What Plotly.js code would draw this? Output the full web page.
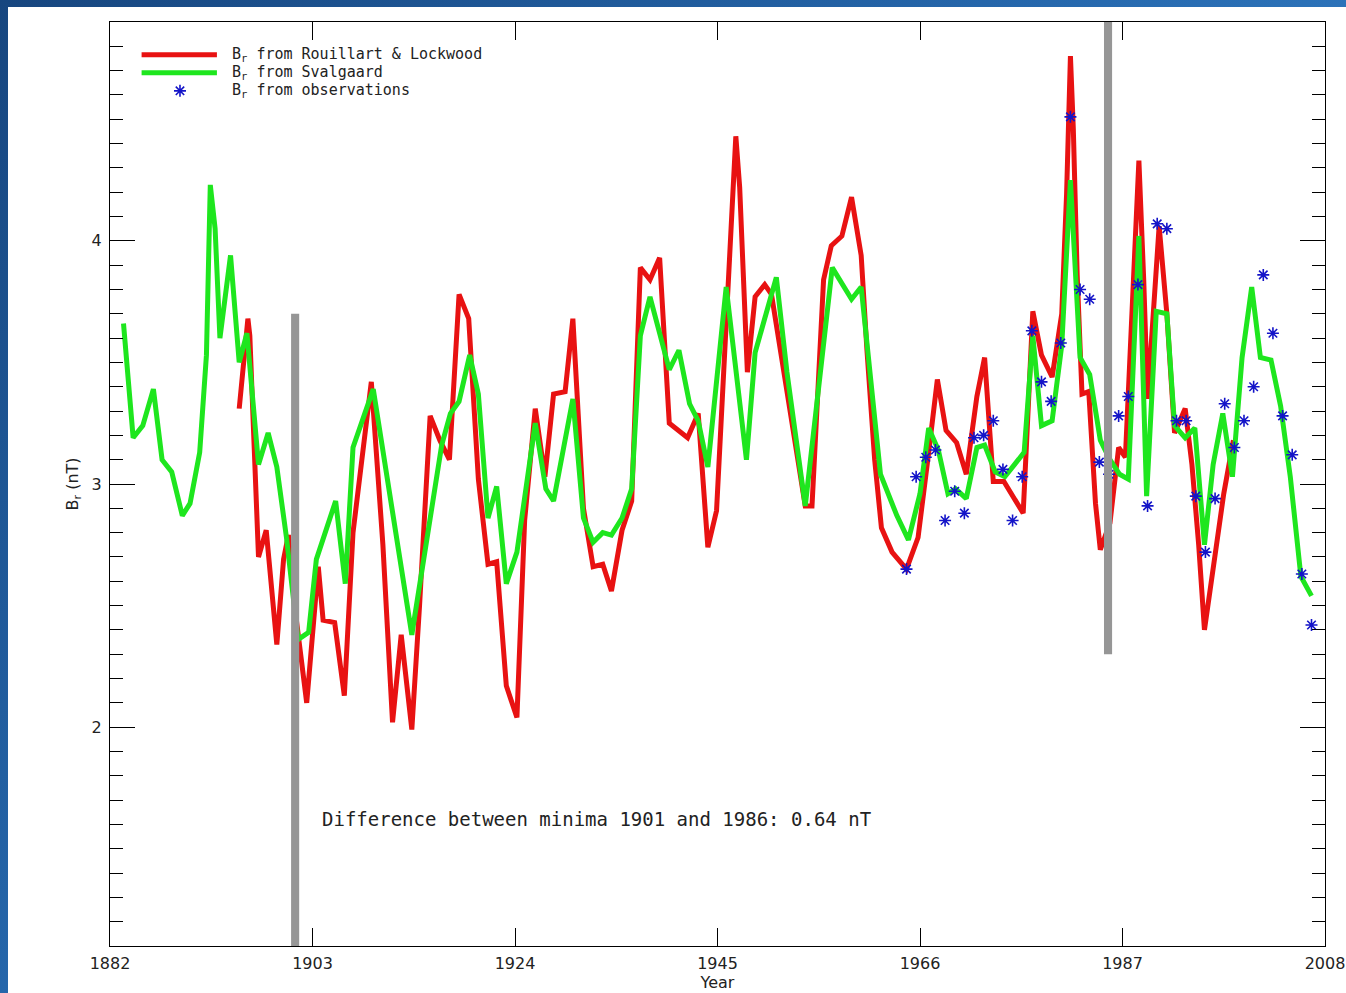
<!DOCTYPE html>
<html>
<head>
<meta charset="utf-8">
<script src="https://cdn.plot.ly/plotly-3.0.1.min.js"></script>
<style>
  html, body { margin: 0; padding: 0; width: 1346px; height: 993px; overflow: hidden;
    background: linear-gradient(135deg, #17467f 0%, #2668ad 45%, #3f95e0 100%); }
  #chart { position: absolute; left: 8px; top: 7px; width: 1338px; height: 986px; background: #fff; }
</style>
</head>
<body>
<div id="chart"></div>
<script>
// ---- data ----
const xTickVals = [1882, 1903, 1924, 1945, 1966, 1987, 2008];
const yTickVals = [2, 3, 4];

const redYears = [1895.4, 1896.3, 1896.5, 1896.9, 1897.4, 1898.2, 1899.3, 1900.0, 1900.5, 1901.3,
  1902.4, 1903.6, 1904.1, 1905.3, 1906.3, 1907.2, 1909.1, 1910.3, 1911.3, 1912.2,
  1913.3, 1914.1, 1915.2, 1916.2, 1917.2, 1918.2, 1919.2, 1920.2, 1921.2, 1922.1,
  1923.1, 1924.2, 1925.0, 1926.1, 1927.1, 1928.0, 1929.2, 1930.0, 1931.1, 1932.1,
  1933.1, 1934.0, 1935.1, 1936.1, 1937.0, 1938.0, 1939.0, 1940.0, 1941.9, 1943.0,
  1944.0, 1944.9, 1946.1, 1946.6, 1946.9, 1947.3, 1947.7, 1948.1, 1948.9, 1949.9,
  1950.6, 1952.2, 1953.2, 1954.1, 1954.8, 1956.0, 1956.8, 1957.9, 1958.9, 1959.9,
  1960.5, 1961.3, 1962.0, 1963.1, 1964.6, 1965.8, 1966.9, 1967.8, 1968.7, 1969.8,
  1970.8, 1971.9, 1972.7, 1973.6, 1974.7, 1975.7, 1976.7, 1977.7, 1978.6, 1979.7,
  1980.7, 1981.2, 1981.6, 1981.9, 1982.3, 1982.8, 1983.5, 1984.2, 1984.7, 1985.7,
  1986.6, 1987.3, 1988.1, 1988.7, 1989.2, 1989.6, 1990.8, 1991.6, 1992.4, 1993.5,
  1994.2, 1994.9, 1995.5, 1996.4, 1997.5, 1998.5];
const redValues = [3.31, 3.68, 3.61, 3.20, 2.70, 2.81, 2.34, 2.69, 2.79, 2.45,
  2.10, 2.66, 2.44, 2.43, 2.13, 2.80, 3.42, 2.75, 2.02, 2.38,
  1.99, 2.50, 3.28, 3.18, 3.10, 3.78, 3.68, 3.02, 2.67, 2.68,
  2.17, 2.04, 2.85, 3.31, 3.03, 3.37, 3.38, 3.68, 2.90, 2.66,
  2.67, 2.56, 2.81, 2.93, 3.89, 3.84, 3.93, 3.25, 3.19, 3.29,
  2.74, 2.89, 3.80, 4.24, 4.43, 4.22, 3.80, 3.46, 3.77, 3.82,
  3.78, 3.39, 3.14, 2.91, 2.91, 3.84, 3.98, 4.02, 4.18, 3.94,
  3.55, 3.10, 2.82, 2.72, 2.65, 2.78, 3.13, 3.43, 3.22, 3.17,
  3.04, 3.36, 3.52, 3.01, 3.01, 2.94, 2.88, 3.71, 3.53, 3.44,
  3.70, 4.19, 4.76, 4.46, 3.86, 3.37, 3.38, 2.92, 2.73, 2.84,
  3.15, 3.11, 3.83, 4.33, 3.84, 3.35, 4.06, 3.70, 3.21, 3.31,
  3.08, 2.75, 2.40, 2.66, 2.96, 3.18];

const greenYears = [1883.4, 1884.4, 1885.4, 1886.5, 1887.4, 1888.4, 1889.5, 1890.3, 1891.3, 1892.0,
  1892.4, 1892.9, 1893.4, 1894.5, 1895.4, 1896.2, 1897.4, 1898.4, 1899.3, 1900.3,
  1901.5, 1902.6, 1903.4, 1905.4, 1906.4, 1907.2, 1909.3, 1913.3, 1916.4, 1917.3,
  1918.2, 1919.3, 1920.2, 1921.2, 1922.1, 1923.1, 1924.2, 1926.1, 1927.2, 1928.0,
  1930.0, 1931.1, 1932.1, 1933.1, 1934.0, 1935.1, 1936.1, 1937.0, 1938.0, 1940.0,
  1941.0, 1942.1, 1943.0, 1944.0, 1945.9, 1948.0, 1948.9, 1951.1, 1952.2, 1954.1,
  1956.9, 1958.9, 1959.9, 1961.9, 1963.6, 1964.8, 1966.0, 1966.9, 1967.9, 1968.9,
  1969.7, 1970.8, 1971.9, 1972.7, 1973.8, 1974.8, 1976.8, 1977.7, 1978.6, 1979.7,
  1980.7, 1981.6, 1982.6, 1983.6, 1984.7, 1985.7, 1986.7, 1987.6, 1988.7, 1989.5,
  1990.5, 1991.6, 1992.4, 1993.5, 1994.5, 1995.5, 1996.4, 1997.4, 1998.4, 1999.4,
  2000.4, 2001.3, 2002.4, 2003.4, 2004.4, 2005.5, 2006.6];
const greenValues = [3.66, 3.19, 3.24, 3.39, 3.10, 3.05, 2.87, 2.92, 3.13, 3.53,
  4.23, 4.05, 3.60, 3.94, 3.50, 3.62, 3.08, 3.21, 3.07, 2.78,
  2.36, 2.39, 2.69, 2.93, 2.59, 3.15, 3.39, 2.38, 3.16, 3.29,
  3.34, 3.53, 3.37, 2.86, 2.99, 2.59, 2.72, 3.25, 2.98, 2.93,
  3.35, 2.86, 2.76, 2.80, 2.79, 2.86, 2.98, 3.61, 3.77, 3.47,
  3.55, 3.33, 3.26, 3.07, 3.81, 3.10, 3.54, 3.85, 3.46, 2.91,
  3.89, 3.76, 3.81, 3.04, 2.87, 2.77, 2.96, 3.23, 3.14, 2.96,
  2.98, 2.94, 3.15, 3.16, 3.05, 3.03, 3.13, 3.61, 3.24, 3.26,
  3.57, 4.25, 3.52, 3.45, 3.18, 3.10, 3.04, 3.02, 4.02, 2.95,
  3.71, 3.70, 3.24, 3.19, 3.23, 2.75, 3.08, 3.29, 3.03, 3.52,
  3.81, 3.52, 3.51, 3.32, 3.03, 2.62, 2.54];

const obsYears = [1964.6, 1965.6, 1966.6, 1967.6, 1968.6, 1969.6, 1970.6, 1971.6, 1972.6, 1973.6,
  1974.6, 1975.6, 1976.6, 1977.6, 1978.6, 1979.6, 1980.6, 1981.6, 1982.6, 1983.6,
  1984.6, 1985.6, 1986.6, 1987.6, 1988.6, 1989.6, 1990.6, 1991.6, 1992.6, 1993.6,
  1994.6, 1995.6, 1996.6, 1997.6, 1998.6, 1999.6, 2000.6, 2001.6, 2002.6, 2003.6,
  2004.6, 2005.6, 2006.6];
const obsValues = [2.65, 3.03, 3.11, 3.14, 2.85, 2.97, 2.88, 3.19, 3.20, 3.26,
  3.06, 2.85, 3.03, 3.63, 3.42, 3.34, 3.58, 4.51, 3.80, 3.76,
  3.09, 3.04, 3.28, 3.36, 3.82, 2.91, 4.07, 4.05, 3.26, 3.26,
  2.95, 2.72, 2.94, 3.33, 3.15, 3.26, 3.40, 3.86, 3.62, 3.28,
  3.12, 2.63, 2.42];

// solar-minimum markers (grey bars)
const minimaYears = [1901.2, 1985.5];
const minimaBottom = [1.1, 2.3];
const minimaTop = [3.7, 4.9];

const seriesNames = ['B<sub>r</sub> from Rouillart &amp; Lockwood', 'B<sub>r</sub> from Svalgaard', 'B<sub>r</sub> from observations'];
const noteText = 'Difference between minima 1901 and 1986: 0.64 nT';

// ---- styling ----
const RED = 'rgb(232,18,18)';
const GREEN = 'rgb(30,230,30)';
const BLUE = 'rgb(20,20,200)';
const GREY = 'rgb(150,150,150)';
const FONT = 'DejaVu Sans';
const MONO = 'DejaVu Sans Mono';

const traces = [
  { x: redYears, y: redValues, type: 'scatter', mode: 'lines', name: seriesNames[0],
    line: { color: RED, width: 5 }, showlegend: false },
  { x: greenYears, y: greenValues, type: 'scatter', mode: 'lines', name: seriesNames[1],
    line: { color: GREEN, width: 5 }, showlegend: false },
  { x: obsYears, y: obsValues, type: 'scatter', mode: 'markers', name: seriesNames[2],
    marker: { symbol: 'asterisk-open', size: 10, color: BLUE, line: { color: BLUE, width: 1.6 } },
    showlegend: false }
];

const shapes = minimaYears.map((yr, i) => ({
  type: 'rect', xref: 'x', yref: 'y', x0: yr - 0.42, x1: yr + 0.42,
  y0: minimaBottom[i], y1: minimaTop[i], fillcolor: GREY, line: { width: 0 }, layer: 'above'
}));

// hand-drawn legend (long line samples like the original)
const legY = [0.9645, 0.945, 0.9255];
shapes.push({ type: 'line', xref: 'paper', yref: 'paper', x0: 0.026, x1: 0.088, y0: legY[0], y1: legY[0],
  line: { color: RED, width: 5 } });
shapes.push({ type: 'line', xref: 'paper', yref: 'paper', x0: 0.026, x1: 0.088, y0: legY[1], y1: legY[1],
  line: { color: GREEN, width: 5 } });
shapes.push({ type: 'path', xref: 'paper', yref: 'paper', xsizemode: 'pixel', ysizemode: 'pixel',
  xanchor: 0.0576, yanchor: legY[2],
  path: 'M-6,0H6M0,-6V6M-4.2,-4.2L4.2,4.2M-4.2,4.2L4.2,-4.2',
  line: { color: BLUE, width: 1.6 } });

const annotations = seriesNames.map((t, i) => ({
  xref: 'paper', yref: 'paper', x: 0.0988, y: legY[i], xanchor: 'left', yanchor: 'middle',
  text: t, showarrow: false, font: { family: MONO, size: 15, color: '#222' }
}));
annotations.push({
  xref: 'paper', yref: 'paper', x: 0.1728, y: 0.1374, xanchor: 'left', yanchor: 'middle',
  text: noteText, showarrow: false, font: { family: MONO, size: 19, color: '#222' }
});

const layout = {
  width: 1338, height: 986,
  margin: { l: 102, r: 21, t: 15, b: 47, pad: 0 },
  paper_bgcolor: '#ffffff', plot_bgcolor: '#ffffff',
  showlegend: false,
  font: { family: FONT, color: '#222' },
  xaxis: {
    range: [1882, 2008], tickvals: xTickVals, ticktext: xTickVals.map(String),
    ticks: 'inside', ticklen: 18, tickwidth: 1, tickcolor: '#000',
    showline: true, linecolor: '#000', linewidth: 1, mirror: 'ticks',
    showgrid: false, zeroline: false, ticklabelstandoff: 3, ticklabeloverflow: 'allow',
    tickfont: { family: FONT, size: 16, color: '#222' },
    title: { text: 'Year', font: { family: FONT, size: 16, color: '#222' }, standoff: 3 }
  },
  yaxis: {
    range: [1.1, 4.9], tickvals: yTickVals, ticktext: yTickVals.map(String),
    ticks: 'inside', ticklen: 25, tickwidth: 1, tickcolor: '#000',
    showline: true, linecolor: '#000', linewidth: 1, mirror: 'ticks',
    showgrid: false, zeroline: false, ticklabelstandoff: 4,
    minor: { dtick: 0.1, tick0: 0, ticks: 'inside', ticklen: 13, tickwidth: 1, tickcolor: '#000', showgrid: false },
    tickfont: { family: FONT, size: 16, color: '#222' },
    title: { text: 'B<sub>r</sub> (nT)', font: { family: FONT, size: 16, color: '#222' }, standoff: 9 }
  },
  shapes: shapes,
  annotations: annotations
};

Plotly.newPlot('chart', traces, layout, { displayModeBar: false, staticPlot: true });
</script>
</body>
</html>
